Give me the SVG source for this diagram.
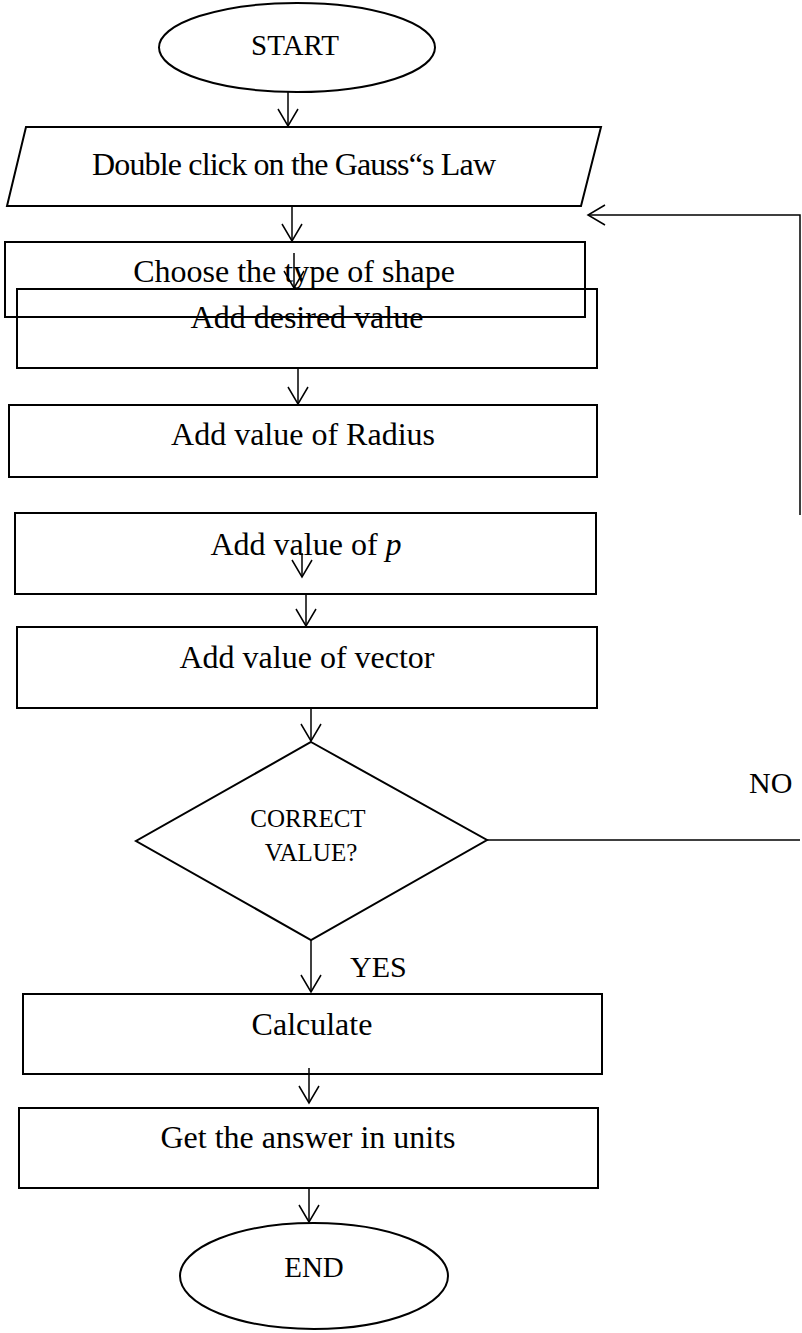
<svg xmlns="http://www.w3.org/2000/svg" width="802" height="1333" viewBox="0 0 802 1333">
<style>
.shape{fill:none;stroke:#000;stroke-width:2}
.t{font-family:"Liberation Serif","Times New Roman",serif;font-size:32px;fill:#000;text-anchor:middle}
.conn{fill:none;stroke:#000;stroke-width:1.5}
</style>
<defs>
<marker id="arr" viewBox="-20 -12 22 24" refX="0" refY="0" markerWidth="22" markerHeight="24" markerUnits="userSpaceOnUse" orient="auto">
<path d="M-17,-10 L0,0 L-17,10" fill="none" stroke="#000" stroke-width="1.5"/>
</marker>
</defs>
<rect width="802" height="1333" fill="#fff"/>
<g id="start">
<ellipse class="shape" cx="297" cy="47.5" rx="138" ry="44.5"/>
<text class="t" x="295" y="55" style="font-size:29px">START</text>
</g>
<g id="input">
<polygon class="shape" points="26,127 601,127 581,206 7,206"/>
<text class="t" x="294" y="175" textLength="404" lengthAdjust="spacing">Double click on the Gauss“s Law</text>
</g>
<g id="choose">
<rect class="shape" x="5" y="242" width="580" height="75"/>
<text class="t" x="294" y="282">Choose the type of shape</text>
</g>
<g id="desired">
<rect class="shape" x="17" y="289" width="580" height="79"/>
<text class="t" x="307" y="328">Add desired value</text>
</g>
<g id="radius">
<rect class="shape" x="9" y="405" width="588" height="72"/>
<text class="t" x="303" y="445">Add value of Radius</text>
</g>
<g id="pval">
<rect class="shape" x="15" y="513" width="581" height="81"/>
<text class="t" x="306" y="555">Add value of <tspan font-style="italic">p</tspan></text>
</g>
<g id="vector">
<rect class="shape" x="17" y="627" width="580" height="81"/>
<text class="t" x="307" y="668">Add value of vector</text>
</g>
<g id="decision">
<polygon class="shape" points="311,742 487,840 311,940 136,841"/>
<text class="t" x="308" y="827" style="font-size:25px">CORRECT</text>
<text class="t" x="311" y="861" style="font-size:25px">VALUE?</text>
</g>
<g id="calculate">
<rect class="shape" x="23" y="994" width="579" height="80"/>
<text class="t" x="312" y="1035">Calculate</text>
</g>
<g id="answer">
<rect class="shape" x="19" y="1108" width="579" height="80"/>
<text class="t" x="308" y="1148">Get the answer in units</text>
</g>
<g id="end">
<ellipse class="shape" cx="314" cy="1276" rx="134" ry="53"/>
<text class="t" x="314" y="1277" style="font-size:29px">END</text>
</g>
<g id="connectors">
<line class="conn" x1="288" y1="92" x2="288" y2="126" marker-end="url(#arr)"/>
<line class="conn" x1="292" y1="206" x2="292" y2="241" marker-end="url(#arr)"/>
<line class="conn" x1="294" y1="253" x2="294" y2="288" marker-end="url(#arr)"/>
<line class="conn" x1="298" y1="368" x2="298" y2="404" marker-end="url(#arr)"/>
<line class="conn" x1="302" y1="553" x2="302" y2="577" marker-end="url(#arr)"/>
<line class="conn" x1="306" y1="594" x2="306" y2="626" marker-end="url(#arr)"/>
<line class="conn" x1="311" y1="708" x2="311" y2="741" marker-end="url(#arr)"/>
<line class="conn" x1="311" y1="940" x2="311" y2="992" marker-end="url(#arr)"/>
<line class="conn" x1="309" y1="1068" x2="309" y2="1103" marker-end="url(#arr)"/>
<line class="conn" x1="309" y1="1188" x2="309" y2="1222" marker-end="url(#arr)"/>
<polyline class="conn" points="800,515 800,215 588,215" marker-end="url(#arr)"/>
<line class="conn" x1="487" y1="840" x2="800" y2="840"/>
<text class="t" x="749" y="793" style="font-size:30px;text-anchor:start">NO</text>
<text class="t" x="350" y="977" style="font-size:30px;text-anchor:start">YES</text>
</g>
</svg>
